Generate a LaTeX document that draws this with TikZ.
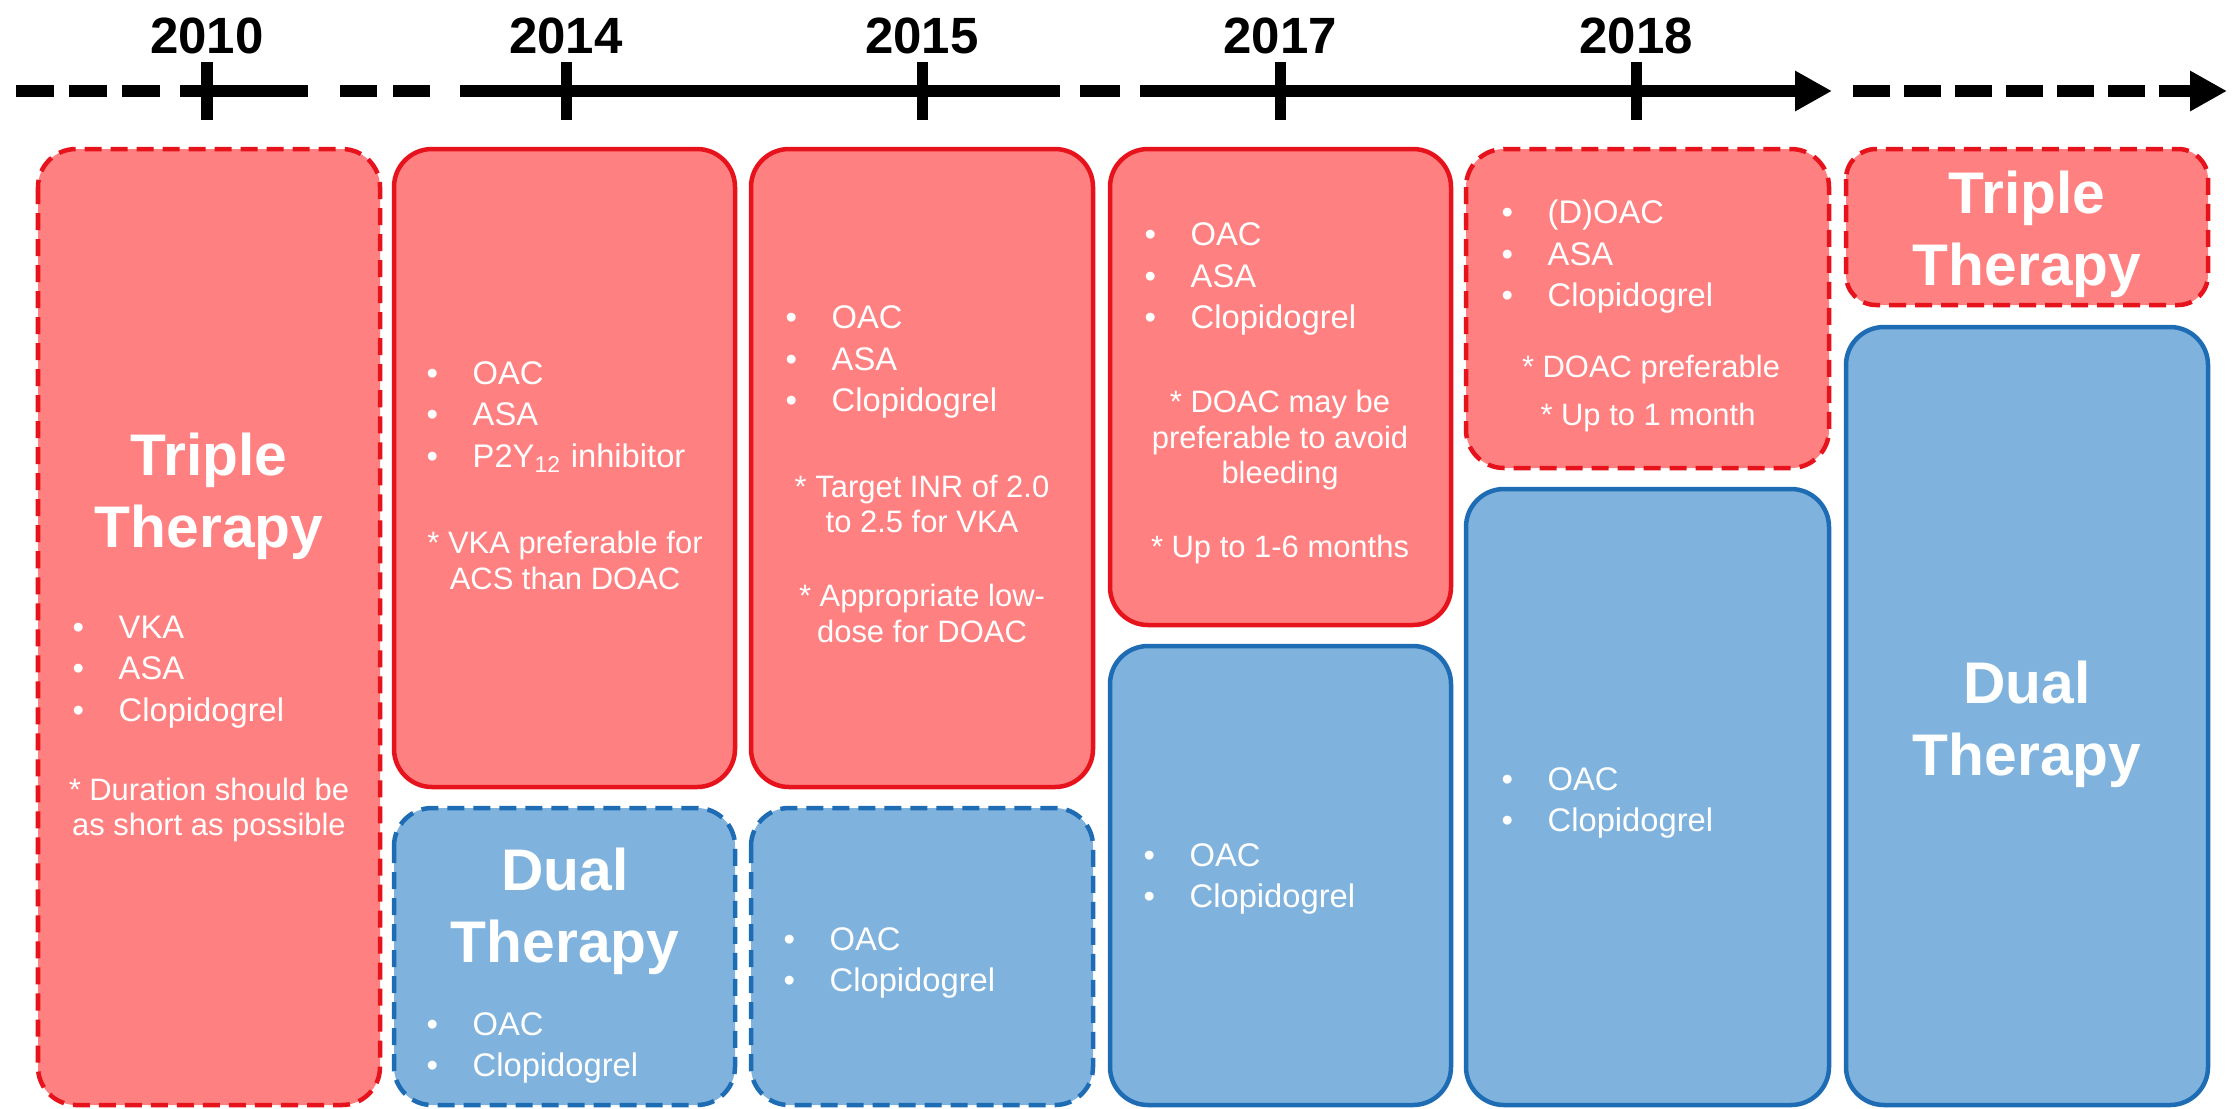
\documentclass[tikz,border=0pt]{standalone}
\usepackage{fontspec}
\setmainfont{Liberation Sans}
\usetikzlibrary{arrows.meta}
\definecolor{rfill}{RGB}{255,128,128}
\definecolor{rline}{RGB}{230,18,28}
\definecolor{bfill}{RGB}{127,179,222}
\definecolor{bline}{RGB}{30,108,180}
\newcommand\blt{\makebox[0.46cm][l]{\textbullet}}
\begin{document}
\begin{tikzpicture}[x=0.01cm,y=-0.01cm,
  redbox/.style={fill=rfill,draw=rline,line width=0.045cm,rounded corners=0.38cm},
  bluebox/.style={fill=bfill,draw=bline,line width=0.045cm,rounded corners=0.38cm},
  dashbox/.style={dash pattern=on 0.17cm off 0.09cm},
  bullets/.style={anchor=west,inner sep=0,text=white,align=left,font=\fontsize{9.3}{11.8}\selectfont},
  note/.style={anchor=center,inner sep=0,text=white,align=center,font=\fontsize{8.8}{10.2}\selectfont},
  title/.style={anchor=center,inner sep=0,text=white,align=center,font=\fontsize{16.7}{20.5}\selectfont\bfseries},
  year/.style={inner sep=0,font=\fontsize{14.5}{17}\selectfont\bfseries},
  axis/.style={line width=0.12cm},
  tickmark/.style={line width=0.11cm},
  tip/.style={-{Triangle[length=0.37cm,width=0.38cm]}},
]
\useasboundingbox (0,0) rectangle (2236,1108);

% ---- boxes ----
\draw[redbox,dashbox] (38,149) rectangle (380,1105);
\draw[redbox] (394,149) rectangle (735,787);
\draw[bluebox,dashbox] (394,808) rectangle (735,1105);
\draw[redbox] (751,149) rectangle (1093,787);
\draw[bluebox,dashbox] (751,808) rectangle (1093,1105);
\draw[redbox] (1110,149) rectangle (1451,625);
\draw[bluebox] (1110,646) rectangle (1451,1105);
\draw[redbox,dashbox] (1466,149) rectangle (1829,468);
\draw[bluebox] (1466,489) rectangle (1829,1105);
\draw[redbox,dashbox,rounded corners=0.3cm] (1846,149) rectangle (2208,305);
\draw[bluebox] (1846,327) rectangle (2208,1105);

% ---- timeline ----
\coordinate (s1) at (16,91);   \coordinate (e1) at (160,91);
\coordinate (s2) at (180,91);  \coordinate (e2) at (308,91);
\coordinate (s3) at (340,91);  \coordinate (e3) at (431,91);
\coordinate (s4) at (460,91);  \coordinate (e4) at (1060,91);
\coordinate (s5) at (1080,91); \coordinate (e5) at (1120,91);
\coordinate (s6) at (1140,91); \coordinate (e6) at (1832,91);
\coordinate (s7) at (1853,91); \coordinate (e7) at (2227,91);
\draw[axis,dash pattern=on 0.38cm off 0.15cm] (s1) -- (e1);
\draw[axis] (s2) -- (e2);
\draw[axis,dash pattern=on 0.37cm off 0.16cm] (s3) -- (e3);
\draw[axis] (s4) -- (e4);
\draw[axis] (s5) -- (e5);
\draw[axis,tip] (s6) -- (e6);
\draw[axis,tip,dash pattern=on 0.37cm off 0.14cm] (s7) -- (e7);

\foreach \x/\yr in {207/2010,566/2014,922/2015,1280/2017,1636/2018}{
  \draw[tickmark] (\x,62) -- (\x,120);
  \node[year] (y\yr) at (\x,36) {\yr};
}

% ---- texts ----
% 2010
\node[title] (tA) at (209,496) {Triple\\Therapy};
\node[bullets] (bA) at (72,672) {\blt VKA\\\blt ASA\\\blt Clopidogrel};
\node[note] (nA) at (209,810) {* Duration should be\\as short as possible};
% 2014
\node[bullets] (bB) at (426,417) {\blt OAC\\\blt ASA\\\blt P2Y\textsubscript{12} inhibitor};
\node[note] (nB) at (565,560) {* VKA preferable for\\ACS than DOAC};
\node[title] (tC) at (565,911) {Dual\\Therapy};
\node[bullets] (bC) at (426,1048) {\blt OAC\\\blt Clopidogrel};
% 2015
\node[bullets] (bD) at (785,362) {\blt OAC\\\blt ASA\\\blt Clopidogrel};
\node[note] (nD1) at (922,504) {* Target INR of 2.0\\to 2.5 for VKA};
\node[note] (nD2) at (922,613) {* Appropriate low-\\dose for DOAC};
\node[bullets] (bE) at (783,963) {\blt OAC\\\blt Clopidogrel};
% 2017
\node[bullets] (bF) at (1144,279) {\blt OAC\\\blt ASA\\\blt Clopidogrel};
\node[note] (nF1) at (1280,440) {* DOAC may be\\preferable to avoid\\bleeding};
\node[note] (nF2) at (1280,549) {* Up to 1-6 months};
\node[bullets] (bG) at (1143,879) {\blt OAC\\\blt Clopidogrel};
% 2018
\node[bullets] (bH) at (1501,257) {\blt (D)OAC\\\blt ASA\\\blt Clopidogrel};
\node[note] (nH1) at (1651,369) {* DOAC preferable};
\node[note] (nH2) at (1648,417) {* Up to 1 month};
\node[bullets] (bI) at (1501,803) {\blt OAC\\\blt Clopidogrel};
% future
\node[title] (tJ) at (2027,234) {Triple\\Therapy};
\node[title] (tK) at (2027,724) {Dual\\Therapy};
\end{tikzpicture}
\end{document}
